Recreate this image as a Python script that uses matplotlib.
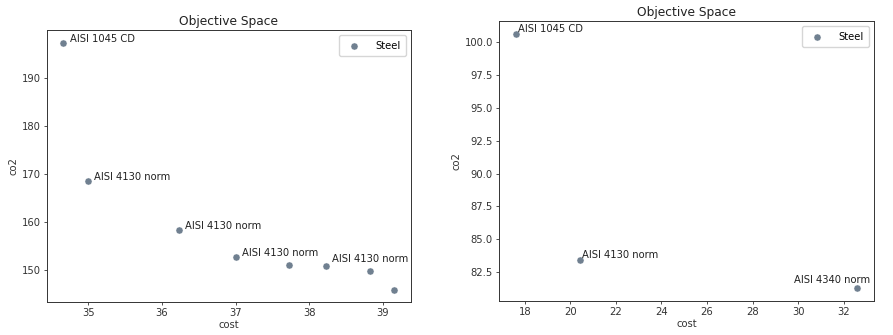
import matplotlib
matplotlib.use("Agg")
import matplotlib.pyplot as plt

# Left panel data
left_cost = [34.66, 34.99, 36.23, 37.00, 37.73, 38.23, 38.83, 39.16]
left_co2 = [197.3, 168.5, 158.2, 152.6, 151.0, 150.7, 149.65, 145.8]
left_labels = ["AISI 1045 CD", "AISI 4130 norm", "AISI 4130 norm", "AISI 4130 norm",
               None, "AISI 4130 norm", None, None]

# Right panel data
right_cost = [17.62, 20.43, 32.58]
right_co2 = [100.63, 83.46, 81.28]
right_labels = ["AISI 1045 CD", "AISI 4130 norm", "AISI 4340 norm"]

series_name = "Steel"
color = "#708090"
fs = 7.2
title_fs = 8.8

fig = plt.figure(figsize=(8.93, 3.35), dpi=100)
ax1 = fig.add_axes([0.0523, 0.0985, 0.408, 0.811])
ax2 = fig.add_axes([0.5588, 0.1015, 0.42, 0.8355])

for ax in (ax1, ax2):
    for s in ax.spines.values():
        s.set_linewidth(0.7)
        s.set_color("#333333")
    ax.tick_params(labelsize=fs, width=0.6, length=2.5, colors="#333333", pad=2)
    ax.set_xlabel("cost", fontsize=fs, labelpad=1, color="#333333")
    ax.set_ylabel("co2", fontsize=fs, labelpad=2, color="#333333")
    ax.set_title("Objective Space", fontsize=title_fs, pad=4, color="#222222")

ax1.scatter(left_cost, left_co2, s=26, color=color, edgecolors="white", linewidths=0.3, label=series_name, zorder=3)
ax2.scatter(right_cost, right_co2, s=26, color=color, edgecolors="white", linewidths=0.3, label=series_name, zorder=3)

left_offsets = [(4.5, 0.5), (4.5, 0.5), (4.5, 0.5), (4.5, 0.5), None, (4.0, 2.8), None, None]
for x, y, lab, off in zip(left_cost, left_co2, left_labels, left_offsets):
    if lab:
        ax1.annotate(lab, (x, y), xytext=off, textcoords="offset points", fontsize=fs, color="#222222")

right_offsets = [(1.2, 1.2), (1.2, 0.8), (9.6, 3.7)]
right_ha = ["left", "left", "right"]
for x, y, lab, off, ha in zip(right_cost, right_co2, right_labels, right_offsets, right_ha):
    ax2.annotate(lab, (x, y), xytext=off, textcoords="offset points", fontsize=fs, ha=ha, color="#222222")

ax2.set_yticks([82.5, 85.0, 87.5, 90.0, 92.5, 95.0, 97.5, 100.0])

for ax in (ax1, ax2):
    ax.legend(loc="upper right", fontsize=fs, handletextpad=1.1, borderpad=0.55)

fig.savefig("out.png", dpi=100)
